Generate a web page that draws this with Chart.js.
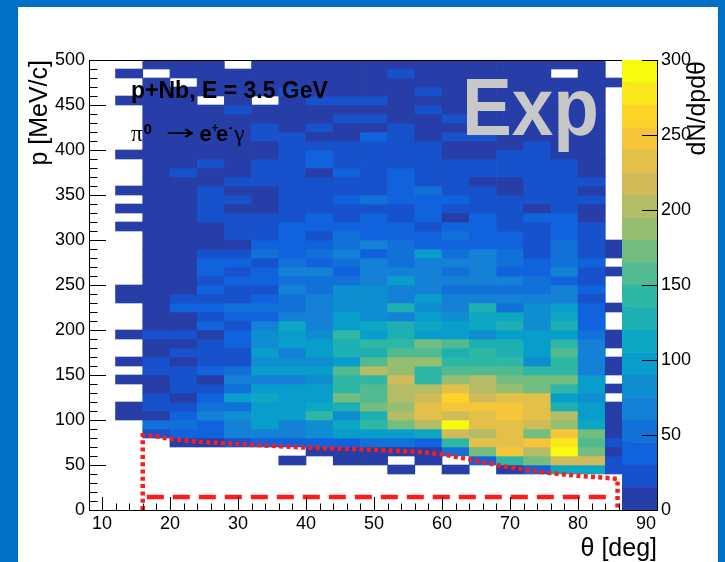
<!DOCTYPE html>
<html>
<head>
<meta charset="utf-8">
<script src="https://cdn.jsdelivr.net/npm/chart.js@4.4.1/dist/chart.umd.min.js"></script>
<style>
  html, body { margin: 0; padding: 0; width: 725px; height: 562px; overflow: hidden; background: #0070c6; }
  #paper { position: absolute; left: 18px; top: 7px; width: 700px; height: 555px; background: #fff; }
  #main  { position: absolute; left: 0; top: 0; }
  #pal   { position: absolute; left: 600px; top: 0; }
</style>
</head>
<body>
<div id="paper"></div>
<canvas id="main" width="725" height="562"></canvas>
<canvas id="pal" width="125" height="562"></canvas>
<script>
// ── Data ──────────────────────────────────────────────────────────────────
const _ = null;

// theta bins: low edges, 4 deg wide
const thetaLow  = [12, 16, 20, 24, 28, 32, 36, 40, 44, 48, 52, 56, 60, 64, 68, 72, 76, 80, 84];
const thetaStep = 4;
// momentum bins: 10 MeV/c wide, row i = [10*i, 10*i+10)
const pStep = 10;

// counts[i][j] — entries per (p bin i, theta bin j), null = empty bin
const counts = [
  [_,_,_,_,_,_,_,_,_,_,_,_,_,_,_,_,_,_,_],                               //   0
  [_,_,_,_,_,_,_,_,_,_,_,_,_,_,_,_,_,_,_],                               //  10
  [_,_,_,_,_,_,_,_,_,_,_,_,_,_,_,_,_,_,_],                               //  20
  [_,_,_,_,_,_,_,_,_,_,_,_,_,_,_,_,_,_,_],                               //  30
  [_,_,_,_,_,_,_,_,_,_,8,_,8,_,8,37,112,112,22],                         //  40
  [_,_,_,_,_,_,8,_,8,8,_,8,_,37,142,172,217,217,22],                     //  50
  [_,_,_,_,_,_,_,8,8,8,8,8,52,172,247,202,292,172,8],                    //  60
  [_,_,8,8,22,37,37,37,37,52,52,37,142,232,232,247,277,157,22],          //  70
  [_,22,37,37,67,67,67,82,97,97,97,112,217,202,232,172,247,172,8],       //  80
  [_,52,52,37,67,97,67,82,112,142,172,202,292,232,232,217,187,112,8],    //  90
  [8,8,37,67,82,97,97,142,82,127,202,232,217,232,247,232,202,97,8],      // 100
  [8,22,22,52,52,97,97,112,127,172,187,232,247,247,247,232,127,97,8],    // 110
  [_,22,8,37,97,112,97,97,172,157,202,217,262,217,232,232,97,82,_],      // 120
  [_,8,22,22,52,97,97,97,142,157,202,202,232,202,187,172,142,97,8],      // 130
  [8,8,22,8,67,67,67,82,142,142,217,142,187,202,172,172,172,97,_],       // 140
  [_,22,22,37,52,97,97,97,157,202,187,142,157,157,157,142,142,67,8],     // 150
  [8,22,8,22,22,82,82,82,97,157,187,187,142,142,142,82,142,67,8],        // 160
  [_,8,22,22,22,97,67,97,127,127,157,157,127,142,127,97,157,67,_],       // 170
  [_,8,8,22,37,82,97,97,127,142,142,172,157,127,127,97,142,67,8],        // 180
  [8,22,22,8,37,82,97,82,142,97,127,97,97,82,97,97,97,52,8],             // 190
  [_,8,8,37,22,67,112,67,97,112,127,112,97,112,127,82,127,37,_],         // 200
  [_,8,8,22,37,37,67,67,97,82,67,97,82,112,112,82,112,37,_],             // 210
  [_,8,37,37,52,52,52,67,82,82,127,82,67,127,52,82,97,37,8],             // 220
  [8,8,22,22,22,37,52,67,82,82,67,97,67,67,67,67,67,22,_],               // 230
  [8,8,8,37,22,22,67,52,82,82,67,67,52,52,52,52,67,37,_],                // 240
  [_,8,8,22,37,37,52,52,52,67,97,67,67,67,67,52,37,22,_],                // 250
  [_,8,8,37,22,37,67,67,37,67,67,67,52,67,37,37,67,22,8],                // 260
  [_,8,8,37,37,22,52,37,52,67,52,67,67,67,52,37,52,37,_],                // 270
  [_,8,8,22,22,52,37,52,67,37,52,97,52,67,52,22,52,22,8],                // 280
  [_,8,8,8,8,37,37,37,52,67,52,37,37,37,37,22,52,22,8],                  // 290
  [_,8,8,8,22,22,37,22,52,37,37,37,52,37,37,22,37,22,_],                 // 300
  [8,8,8,8,22,22,37,37,37,37,37,22,37,37,22,22,37,22,_],                 // 310
  [_,8,8,22,22,22,22,37,22,37,22,37,8,37,22,37,37,8,_],                  // 320
  [8,8,8,22,8,8,22,22,22,22,22,37,22,22,22,8,22,8,_],                    // 330
  [_,8,8,22,22,8,22,22,37,52,37,37,37,22,22,22,22,22,_],                 // 340
  [8,8,8,22,8,8,22,22,22,22,37,52,22,22,8,22,22,8,_],                    // 350
  [_,8,8,8,22,22,22,22,22,22,37,22,22,8,8,22,22,22,_],                   // 360
  [_,8,22,8,8,22,22,8,37,22,37,22,22,22,22,22,22,8,_],                   // 370
  [_,8,8,22,8,22,22,37,22,22,22,22,22,22,22,22,22,8,_],                  // 380
  [8,8,8,8,8,8,22,37,22,22,22,22,8,8,22,22,8,8,_],                       // 390
  [_,8,8,8,8,8,22,22,22,22,22,22,8,8,8,22,8,8,_],                        // 400
  [_,8,8,8,8,22,22,8,8,37,22,8,22,22,8,8,8,8,_],                         // 410
  [_,8,8,8,8,22,8,22,8,8,22,8,8,8,8,8,8,8,_],                            // 420
  [_,8,8,8,8,8,8,8,22,22,8,8,22,8,8,8,8,8,_],                            // 430
  [_,8,8,8,22,8,8,8,8,8,8,22,8,8,8,8,8,8,_],                             // 440
  [8,8,8,_,8,_,8,22,22,22,8,8,8,8,8,8,8,8,_],                            // 450
  [_,8,8,8,8,8,22,8,8,8,8,22,8,8,8,8,8,8,_],                             // 460
  [_,8,_,8,8,8,8,8,8,8,8,8,8,8,8,8,8,8,8],                               // 470
  [8,_,8,8,8,8,8,8,8,8,22,8,8,8,8,8,_,8,_],                              // 480
  [_,8,8,8,_,8,8,8,8,8,8,8,8,8,8,8,8,8,_],                               // 490
];

// colour contours (20 levels) and axis ticks
const contours = [0, 15, 30, 45, 60, 75, 90, 105, 120, 135, 150, 165, 180, 195, 210, 225, 240, 255, 270, 285, 300];
const xTicks = [10, 20, 30, 40, 50, 60, 70, 80, 90];
const yTicks = [0, 50, 100, 150, 200, 250, 300, 350, 400, 450, 500];
const zTicks = [0, 50, 100, 150, 200, 250, 300];

// acceptance cuts (theta [deg], p [MeV/c])
const cutBox = [
  { x: 16,   y: 0 },  { x: 16,   y: 83 }, { x: 17.5, y: 82.5 }, { x: 20,   y: 79 },
  { x: 24,   y: 76 }, { x: 31.8, y: 72.5 }, { x: 39.6, y: 69.5 }, { x: 48,   y: 67.5 },
  { x: 55.7, y: 65 }, { x: 60.1, y: 62 }, { x: 64.1, y: 56 },   { x: 68.1, y: 50 },
  { x: 71.9, y: 45 }, { x: 75.9, y: 41 }, { x: 79.9, y: 38 },   { x: 83.7, y: 36 },
  { x: 85.8, y: 34.5 }, { x: 85.8, y: 0 },
];
const cutLow = [{ x: 16.6, y: 14.4 }, { x: 85.2, y: 14.4 }];

// ── kBird palette ─────────────────────────────────────────────────────────
const _STOPS = [0.0, 0.125, 0.25, 0.375, 0.5, 0.625, 0.75, 0.875, 1.0];
const _R = [0.2082, 0.0592, 0.0780, 0.0232, 0.1802, 0.5301, 0.8186, 0.9956, 0.9764];
const _G = [0.1664, 0.3599, 0.5041, 0.6419, 0.7178, 0.7492, 0.7328, 0.7862, 0.9832];
const _B = [0.5293, 0.8684, 0.8385, 0.7914, 0.6425, 0.4662, 0.3499, 0.1968, 0.0539];

function _bird(f) {
  let k = 1;
  while (k < _STOPS.length - 1 && f > _STOPS[k]) k++;
  const t = (f - _STOPS[k - 1]) / (_STOPS[k] - _STOPS[k - 1]);
  const c = a => Math.round(255 * (a[k - 1] + t * (a[k] - a[k - 1])));
  return `rgb(${c(_R)},${c(_G)},${c(_B)})`;
}

const NLEV = contours.length - 1;
function _levelColor(lev) {
  const idx = Math.min(254, Math.floor((lev + 0.99) * 255 / NLEV));
  return _bird(idx / 254);
}
function _levelOf(v) {
  let lev = 0;
  while (lev < NLEV - 1 && v >= contours[lev + 1]) lev++;
  return lev;
}

// ── Cells ─────────────────────────────────────────────────────────────────
const cells = [];
const cellColors = [];
counts.forEach((row, i) => row.forEach((v, j) => {
  if (v == null) return;
  cells.push({ x: thetaLow[j] + thetaStep / 2, y: [i * pStep, (i + 1) * pStep] });
  cellColors.push(_levelColor(_levelOf(v)));
}));

Chart.defaults.font.family = '"Liberation Sans", Arial, sans-serif';
Chart.defaults.color = '#000';

const _RED = '#ff1a1a';

// inward ROOT-style tick marks + top frame line
const rootTicks = {
  id: 'rootTicks',
  afterDraw(chart) {
    const { ctx, chartArea: a, scales: { x, y } } = chart;
    ctx.save();
    ctx.strokeStyle = '#000';
    ctx.lineWidth = 1;
    ctx.beginPath();
    for (let v = 10; v <= 91; v += 2) {
      const px = Math.round(x.getPixelForValue(v)) + 0.5;
      const len = v % 10 === 0 ? 13 : 6.5;
      ctx.moveTo(px, a.bottom); ctx.lineTo(px, a.bottom - len);
    }
    for (let v = 0; v <= 500; v += 10) {
      const py = Math.round(y.getPixelForValue(v)) + 0.5;
      const len = v % 50 === 0 ? 17 : 8.5;
      ctx.moveTo(a.left, py); ctx.lineTo(a.left + len, py);
    }
    ctx.moveTo(a.left, a.top + 0.5); ctx.lineTo(a.right, a.top + 0.5);
    ctx.stroke();
    ctx.restore();
  },
};

function _fitText(ctx, text, x, y, width) {
  const w = ctx.measureText(text).width;
  ctx.save();
  ctx.translate(x, y);
  ctx.scale(width / w, 1);
  ctx.fillText(text, 0, 0);
  ctx.restore();
}

// labels drawn inside the frame
const annotate = {
  id: 'annotate',
  afterDatasetsDraw(chart) {
    const ctx = chart.ctx;
    ctx.save();
    ctx.textBaseline = 'alphabetic';

    ctx.fillStyle = '#c8c8c8';
    ctx.font = 'bold 82px "Liberation Sans"';
    _fitText(ctx, 'Exp', 462, 135, 137);

    ctx.fillStyle = '#000';
    ctx.font = 'bold 23px "Liberation Sans"';
    ctx.fillText('p+Nb, E = 3.5 GeV', 131, 98);

    const y = 141;
    ctx.font = '23px "Liberation Serif"';
    ctx.fillText('π', 131, y);
    ctx.font = 'bold 15px "Liberation Sans"';
    ctx.fillText('0', 143.5, y - 7);
    ctx.font = '22px "DejaVu Sans"';
    _fitText(ctx, '→', 166, y - 1, 29);
    ctx.font = 'bold 22px "Liberation Sans"';
    ctx.fillText('e', 199.5, y);
    ctx.font = 'bold 12px "Liberation Sans"';
    ctx.fillText('+', 211.5, y - 9);
    ctx.font = 'bold 22px "Liberation Sans"';
    ctx.fillText('e', 216, y);
    ctx.font = 'bold 12px "Liberation Sans"';
    ctx.fillText('-', 228.5, y - 9);
    ctx.font = '24px "Liberation Serif"';
    ctx.fillText('γ', 234, y);
    ctx.restore();
  },
};

// ── Main 2D histogram ────────────────────────────────────────────────────
new Chart(document.getElementById('main'), {
  type: 'bar',
  data: {
    datasets: [
      {
        type: 'line', data: cutBox, order: 1,
        borderColor: _RED, borderWidth: 4.5, borderDash: [4, 3.3], borderCapStyle: 'butt',
        pointRadius: 0, fill: false, tension: 0,
      },
      {
        type: 'line', data: cutLow, order: 1,
        borderColor: _RED, borderWidth: 4.5, borderDash: [17, 9], borderCapStyle: 'butt',
        pointRadius: 0, fill: false,
      },
      {
        data: cells, order: 5,
        backgroundColor: cellColors,
        borderWidth: 0,
        barPercentage: 1,
        categoryPercentage: 1,
      },
    ],
  },
  options: {
    responsive: false,
    animation: false,
    devicePixelRatio: 1,
    layout: { padding: { top: 60, right: 68, left: 0, bottom: 0 } },
    plugins: { legend: { display: false }, tooltip: { enabled: false } },
    scales: {
      x: {
        type: 'linear', min: 8.1, max: 91.6, offset: false,
        grid: { display: false, drawTicks: false },
        border: { display: true, color: '#000', width: 1 },
        ticks: { font: { size: 18 }, padding: 3, maxRotation: 0 },
        afterBuildTicks: s => { s.ticks = xTicks.map(v => ({ value: v })); },
        afterFit: s => { s.height = 52; },
        title: {
          display: true, text: 'θ [deg]', align: 'end',
          font: { size: 25, lineHeight: 1 }, padding: { top: 0, bottom: 0.5 },
        },
      },
      y: {
        type: 'linear', min: 0, max: 500,
        grid: { display: false, drawTicks: false },
        border: { display: true, color: '#000', width: 1 },
        ticks: { font: { size: 18 }, padding: 4 },
        afterBuildTicks: s => { s.ticks = yTicks.map(v => ({ value: v })); },
        afterFit: s => { s.width = 89; },
        title: {
          display: true, text: 'p [MeV/c]', align: 'end',
          font: { size: 25, lineHeight: 1 }, padding: { top: 27.5, bottom: 0 },
        },
      },
    },
  },
  plugins: [rootTicks, annotate],
});

// ── Colour palette axis ──────────────────────────────────────────────────
const palTicks = {
  id: 'palTicks',
  afterDraw(chart) {
    const { ctx, chartArea: a, scales: { y } } = chart;
    ctx.save();
    ctx.strokeStyle = '#000';
    ctx.lineWidth = 1;
    ctx.beginPath();
    zTicks.forEach(v => {
      const py = Math.round(y.getPixelForValue(v)) + 0.5;
      ctx.moveTo(a.right, py); ctx.lineTo(a.right - 15, py);
    });
    ctx.stroke();
    ctx.fillStyle = '#000';
    ctx.font = '25px "Liberation Sans"';
    ctx.translate(98, 61);
    ctx.rotate(-Math.PI / 2);
    ctx.textAlign = 'right';
    ctx.textBaseline = 'middle';
    ctx.fillText('dN/dpdθ', 0, 0);
    ctx.restore();
  },
};

new Chart(document.getElementById('pal'), {
  type: 'bar',
  data: {
    labels: ['z'],
    datasets: contours.slice(0, -1).map((lo, k) => ({
      data: [contours[k + 1] - lo],
      backgroundColor: _levelColor(k),
      borderWidth: 0,
      barPercentage: 1,
      categoryPercentage: 1,
    })),
  },
  options: {
    responsive: false,
    animation: false,
    devicePixelRatio: 1,
    layout: { padding: { top: 60, right: 0, left: 22, bottom: 52 } },
    plugins: { legend: { display: false }, tooltip: { enabled: false } },
    scales: {
      x: { display: false, stacked: true },
      y: {
        stacked: true, position: 'right', min: 0, max: 300,
        grid: { display: false, drawTicks: false },
        border: { display: true, color: '#000', width: 1 },
        ticks: { font: { size: 18 }, padding: 4 },
        afterBuildTicks: s => { s.ticks = zTicks.map(v => ({ value: v })); },
        afterFit: s => { s.width = 68; },
      },
    },
  },
  plugins: [palTicks],
});
</script>
</body>
</html>
